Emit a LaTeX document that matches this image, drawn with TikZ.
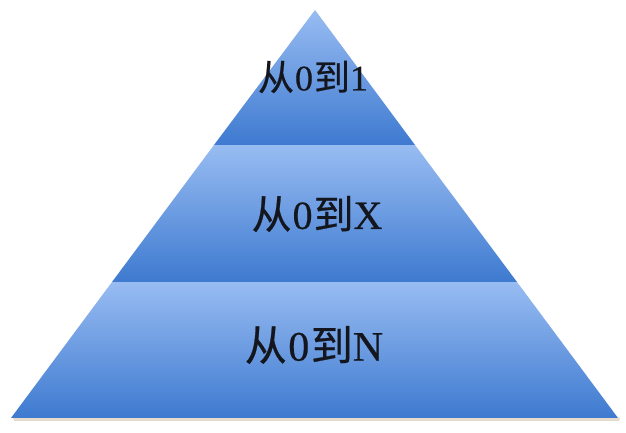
\documentclass[tikz,border=0pt]{standalone}
\usepackage{fontspec}
\setmainfont[FakeBold=0.5]{Liberation Serif}
\newfontfamily\cjk[FakeBold=0.6]{Noto Sans CJK SC}
\definecolor{bandtop}{RGB}{152,188,242}
\definecolor{bandbot}{RGB}{62,122,208}
\definecolor{shadowc}{RGB}{214,196,168}
\tikzset{
  band/.style={top color=bandtop, bottom color=bandbot, draw=none},
  lbl/.style={font=\fontsize{40}{44}\selectfont, text={rgb,255:red,20;green,22;blue,30}, inner sep=0pt}
}
\begin{document}
\begin{tikzpicture}[x=1pt,y=1pt]
\useasboundingbox (0,0) rectangle (626,433);
% shadow under base
\fill[shadowc, opacity=0.6] (13,15) -- (620,15) -- (619,12) -- (14,12) -- cycle;
% bands
\path[band] (11,15) -- (618,15) -- (517,151) -- (112,151) -- cycle;
\path[band] (112,151) -- (517,151) -- (415,288) -- (214,288) -- cycle;
\path[band] (214,288) -- (415,288) -- (315,423) -- cycle;
% labels
\node[lbl, font=\fontsize{36}{40}\selectfont] (t1) at (313,356) {{\cjk 从}\kern1pt0\kern1pt{\cjk 到}1};
\node[lbl] (t2) at (317,219) {{\cjk 从}\kern1pt0\kern1pt{\cjk 到}X};
\node[lbl, font=\fontsize{42}{46}\selectfont] (t3) at (314,88) {{\cjk 从}\kern1.5pt0\kern1.5pt{\cjk 到}N};
\end{tikzpicture}
\end{document}
